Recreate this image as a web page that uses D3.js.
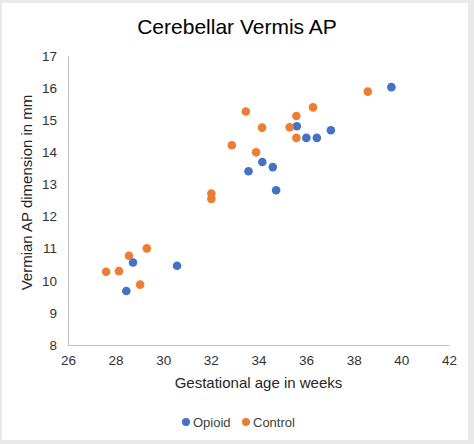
<!DOCTYPE html>
<html>
<head>
<meta charset="utf-8">
<script src="https://cdn.jsdelivr.net/npm/d3@7"></script>
<style>
  html, body { margin: 0; padding: 0; background: #fff; }
  svg { display: block; }
  text { font-family: "Liberation Sans", Arial, sans-serif; }
</style>
</head>
<body>
<svg id="chart" width="474" height="444"></svg>
<script>
// Data
const opioidAge = [28.45, 28.73, 30.58, 33.58, 34.16, 34.60, 34.74, 35.61, 36.01, 36.45, 37.04, 39.58];
const opioidAP  = [9.68, 10.57, 10.47, 13.41, 13.70, 13.54, 12.82, 14.81, 14.45, 14.45, 14.69, 16.03];
const controlAge = [27.60, 28.14, 28.56, 29.03, 29.31, 32.02, 32.02, 32.88, 33.47, 33.90, 34.15, 35.31, 35.59, 35.59, 36.29, 38.59];
const controlAP  = [10.28, 10.30, 10.78, 9.88, 11.01, 12.72, 12.55, 14.22, 15.27, 14.00, 14.77, 14.78, 15.13, 14.45, 15.40, 15.89];
const xTicks = [26, 28, 30, 32, 34, 36, 38, 40, 42];
const yTicks = [8, 9, 10, 11, 12, 13, 14, 15, 16, 17];
const seriesNames = ["Opioid", "Control"];
const seriesColors = ["#4472C4", "#ED7D31"];

const svg = d3.select("#chart");
const W = 474, H = 444;

// frame
svg.append("rect").attr("x", 0).attr("y", 0).attr("width", W).attr("height", H).attr("fill", "#e9e9e9");
svg.append("rect").attr("x", 2).attr("y", 3).attr("width", 466).attr("height", 437).attr("fill", "#ffffff");

const x = d3.scaleLinear().domain([26, 42]).range([68, 449]);
const y = d3.scaleLinear().domain([8, 17]).range([345, 56]);

// title
svg.append("text").attr("x", 237).attr("y", 34).attr("text-anchor", "middle")
  .attr("font-size", 21).attr("fill", "#000").text("Cerebellar Vermis AP");

// axes
const xAxis = d3.axisBottom(x).tickValues(xTicks).tickSize(0).tickPadding(10).tickFormat(d3.format("d"));
const yAxis = d3.axisLeft(y).tickValues(yTicks).tickSize(0).tickPadding(11).tickFormat(d3.format("d"));

const gx = svg.append("g").attr("transform", `translate(0,${y(8)})`).call(xAxis);
const gy = svg.append("g").attr("transform", `translate(${x(26)},0)`).call(yAxis);
[gx, gy].forEach(g => {
  g.select(".domain").attr("stroke", "#bfbfbf").attr("stroke-width", 1);
  g.selectAll("text").attr("font-size", 13.5).attr("fill", "#333333")
    .attr("font-family", "\"Liberation Sans\", Arial, sans-serif");
});

// axis titles
svg.append("text").attr("x", (x(26) + x(42)) / 2).attr("y", 388).attr("text-anchor", "middle")
  .attr("font-size", 15).attr("fill", "#262626").text("Gestational age in weeks");
svg.append("text").attr("transform", `translate(32,${(y(8) + y(17)) / 2 - 8}) rotate(-90)`)
  .attr("text-anchor", "middle").attr("font-size", 15).attr("fill", "#262626")
  .text("Vermian AP dimension in mm");

// points
const opioid = opioidAge.map((a, i) => ({ a, v: opioidAP[i] }));
const control = controlAge.map((a, i) => ({ a, v: controlAP[i] }));

svg.append("g").selectAll("circle").data(opioid).join("circle")
  .attr("cx", d => x(d.a)).attr("cy", d => y(d.v)).attr("r", 4.3).attr("fill", seriesColors[0]);
svg.append("g").selectAll("circle").data(control).join("circle")
  .attr("cx", d => x(d.a)).attr("cy", d => y(d.v)).attr("r", 4.3).attr("fill", seriesColors[1]);

// legend
const legendItems = [{ name: seriesNames[0], color: seriesColors[0], cx: 186 }, { name: seriesNames[1], color: seriesColors[1], cx: 246 }];
const lg = svg.append("g");
legendItems.forEach(it => {
  lg.append("circle").attr("cx", it.cx).attr("cy", 422).attr("r", 4).attr("fill", it.color);
  lg.append("text").attr("x", it.cx + 7).attr("y", 426.5).attr("font-size", 13)
    .attr("fill", "#404040").text(it.name);
});
</script>
</body>
</html>
